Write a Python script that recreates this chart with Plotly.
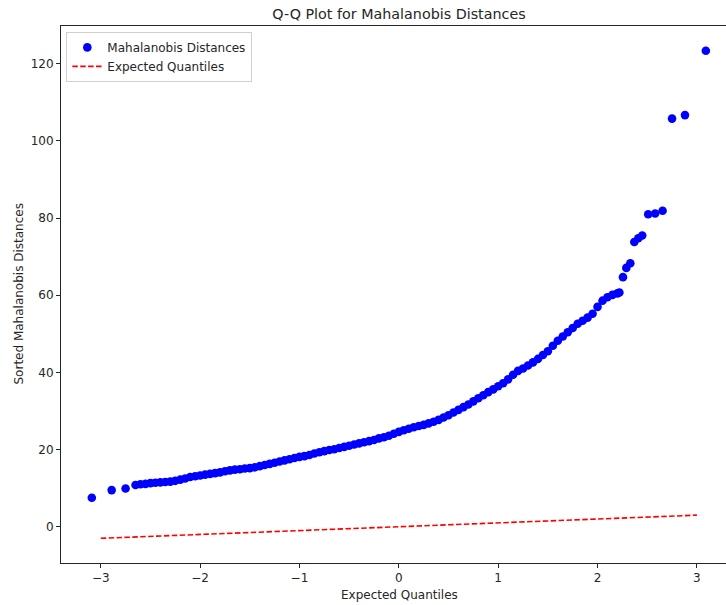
import plotly.graph_objects as go

# Points: expected normal quantile vs sorted Mahalanobis distance
expected_q = [
    -3.09, -2.89, -2.75, -2.65, -2.60,
    -2.55, -2.50, -2.45, -2.40, -2.35, -2.30, -2.25, -2.20, -2.15, -2.10,
    -2.05, -2.00, -1.95, -1.90, -1.85, -1.80, -1.75, -1.70, -1.65, -1.60,
    -1.55, -1.50, -1.45, -1.40, -1.35, -1.30, -1.25, -1.20, -1.15, -1.10,
    -1.05, -1.00, -0.95, -0.90, -0.85, -0.80, -0.75, -0.70, -0.65, -0.60,
    -0.55, -0.50, -0.45, -0.40, -0.35, -0.30, -0.25, -0.20, -0.15, -0.10,
    -0.05, 0.00, 0.05, 0.10, 0.15, 0.20, 0.25, 0.30, 0.35, 0.40,
    0.45, 0.50, 0.55, 0.60, 0.65, 0.70, 0.75, 0.80, 0.85, 0.90,
    0.95, 1.00, 1.05, 1.10, 1.15, 1.20, 1.25, 1.30, 1.35, 1.40,
    1.45, 1.50, 1.55, 1.60, 1.65, 1.70, 1.75, 1.80, 1.85, 1.90,
    1.95, 2.00, 2.05, 2.10, 2.15, 2.20, 2.22,
    2.256, 2.29, 2.33, 2.37, 2.41, 2.45, 2.51, 2.58, 2.655,
    2.75, 2.88, 3.09,
]
sorted_dist = [
    7.5, 9.5, 9.9, 10.8, 11.0,
    11.1, 11.3, 11.4, 11.5, 11.6, 11.7, 11.9, 12.2, 12.5, 12.9,
    13.1, 13.3, 13.5, 13.7, 13.9, 14.1, 14.4, 14.6, 14.8, 14.9,
    15.1, 15.2, 15.4, 15.7, 16.0, 16.3, 16.6, 16.9, 17.2, 17.5,
    17.8, 18.1, 18.3, 18.6, 19.0, 19.3, 19.6, 19.9, 20.1, 20.4,
    20.7, 21.0, 21.3, 21.6, 21.9, 22.2, 22.5, 22.9, 23.2, 23.6,
    24.1, 24.6, 25.0, 25.4, 25.8, 26.1, 26.4, 26.8, 27.2, 27.7,
    28.3, 28.9, 29.6, 30.3, 31.0, 31.7, 32.5, 33.3, 34.1, 34.9,
    35.6, 36.4, 37.2, 38.2, 39.4, 40.4, 41.0, 41.8, 42.6, 43.5,
    44.5, 45.5, 46.9, 48.2, 49.3, 50.4, 51.5, 52.6, 53.4, 54.2,
    55.2, 57.0, 58.6, 59.5, 60.1, 60.5, 60.7,
    64.7, 67.1, 68.3, 73.8, 74.8, 75.5, 81.0, 81.2, 81.9,
    105.8, 106.7, 123.4,
]

# Reference line (expected quantiles against themselves)
ref_x = [-3.0, 3.0]
ref_y = [-3.0, 3.0]

title_text = "Q-Q Plot for Mahalanobis Distances"
x_title = "Expected Quantiles"
y_title = "Sorted Mahalanobis Distances"
x_ticks = [-3, -2, -1, 0, 1, 2, 3]
y_ticks = [0, 20, 40, 60, 80, 100, 120]

FONT = "DejaVu Sans"
INK = "#262626"
W, H = 726, 605
L, R, T, B = 61, 0, 26, 42

fig = go.Figure()
fig.add_trace(go.Scatter(
    x=expected_q, y=sorted_dist, mode="markers",
    name="Mahalanobis Distances",
    marker=dict(color="#0000ff", size=8.6, line=dict(width=0)),
))
fig.add_trace(go.Scatter(
    x=ref_x, y=ref_y, mode="lines",
    name="Expected Quantiles",
    line=dict(color="#ff0000", width=1.6, dash="5.5px,2.4px"),
))

fig.update_layout(
    width=W, height=H,
    margin=dict(l=L, r=R, t=T, b=B, autoexpand=False),
    paper_bgcolor="white", plot_bgcolor="white",
    font=dict(family=FONT, size=12, color=INK),
    title=dict(text=title_text, x=399 / W, xref="container", xanchor="center",
               y=1 - 14 / H, yref="container", yanchor="middle",
               font=dict(family=FONT, size=14.3, color=INK)),
    showlegend=True,
    legend=dict(x=0.008, y=0.989, xanchor="left", yanchor="top",
                bgcolor="rgba(255,255,255,0.8)", bordercolor="#d0d0d0", borderwidth=1,
                font=dict(family=FONT, size=12, color=INK),
                itemwidth=30, tracegroupgap=0),
    annotations=[
        dict(text=x_title, xref="paper", yref="paper", x=(399 - L) / (W - L - R), y=-(595 - (H - B)) / (H - T - B),
             xanchor="center", yanchor="middle", showarrow=False,
             font=dict(family=FONT, size=12, color=INK)),
        dict(text=y_title, xref="paper", yref="paper", x=-(L - 18) / (W - L - R), y=0.5,
             xanchor="center", yanchor="middle", showarrow=False, textangle=-90,
             font=dict(family=FONT, size=12, color=INK)),
    ],
)
fig.update_xaxes(
    range=[-3.40, 3.293], tickvals=x_ticks, ticktext=[("−" + str(-v)) if v < 0 else str(v) for v in x_ticks],
    showgrid=False, zeroline=False, automargin=False,
    showline=True, linecolor=INK, linewidth=1.1, mirror=True,
    ticks="outside", ticklen=4, tickwidth=1, tickcolor=INK,
    tickfont=dict(family=FONT, size=12, color=INK),
)
fig.update_yaxes(
    range=[-9.4, 129.8], tickvals=y_ticks,
    showgrid=False, zeroline=False, automargin=False,
    showline=True, linecolor=INK, linewidth=1.1, mirror=False,
    ticks="outside", ticklen=4, tickwidth=1, tickcolor=INK,
    tickfont=dict(family=FONT, size=12, color=INK),
)

fig.write_html("out.html", config={"displayModeBar": False},
               post_script="document.body.style.margin='0';document.body.style.overflow='hidden';")
